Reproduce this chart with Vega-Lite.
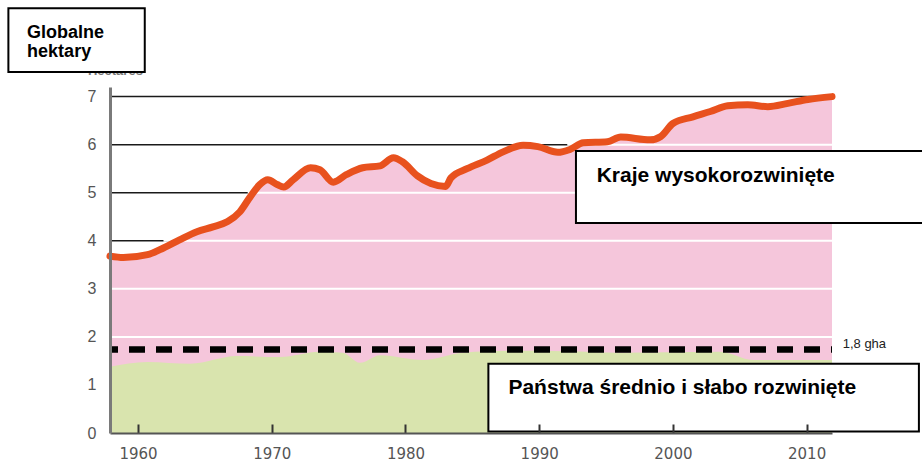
{
  "$schema": "https://vega.github.io/schema/vega-lite/v6.json",
  "width": 722,
  "height": 346,
  "autosize": {"type": "none"},
  "padding": {"left": 110, "top": 87, "right": 90, "bottom": 30},
  "background": "white",
  "config": {"view": {"stroke": null}},
  "datasets": {
    "high": [
      {"year": 1957.9, "v": 3.68}, {"year": 1958.9, "v": 3.65}, {"year": 1960.7, "v": 3.71},
      {"year": 1961.9, "v": 3.85}, {"year": 1963.1, "v": 4.02}, {"year": 1964.4, "v": 4.19},
      {"year": 1965.6, "v": 4.29}, {"year": 1966.7, "v": 4.40}, {"year": 1967.6, "v": 4.60},
      {"year": 1968.4, "v": 4.92}, {"year": 1969.1, "v": 5.17}, {"year": 1969.7, "v": 5.27},
      {"year": 1970.4, "v": 5.17}, {"year": 1970.9, "v": 5.12}, {"year": 1971.6, "v": 5.27},
      {"year": 1972.9, "v": 5.52}, {"year": 1973.6, "v": 5.48}, {"year": 1974.6, "v": 5.22},
      {"year": 1975.6, "v": 5.38}, {"year": 1976.8, "v": 5.52}, {"year": 1978.1, "v": 5.56},
      {"year": 1979.1, "v": 5.73}, {"year": 1979.8, "v": 5.64}, {"year": 1980.9, "v": 5.35},
      {"year": 1981.9, "v": 5.19}, {"year": 1983.0, "v": 5.13}, {"year": 1983.4, "v": 5.31},
      {"year": 1984.6, "v": 5.50}, {"year": 1986.1, "v": 5.68}, {"year": 1987.3, "v": 5.85},
      {"year": 1988.8, "v": 5.99}, {"year": 1989.9, "v": 5.96}, {"year": 1991.4, "v": 5.84},
      {"year": 1992.3, "v": 5.90}, {"year": 1993.3, "v": 6.04}, {"year": 1995.1, "v": 6.06},
      {"year": 1996.1, "v": 6.16}, {"year": 1998.3, "v": 6.10}, {"year": 1999.1, "v": 6.17},
      {"year": 2000.0, "v": 6.44}, {"year": 2001.5, "v": 6.58}, {"year": 2002.8, "v": 6.69},
      {"year": 2004.1, "v": 6.81}, {"year": 2005.6, "v": 6.83}, {"year": 2007.1, "v": 6.79},
      {"year": 2008.6, "v": 6.86}, {"year": 2010.1, "v": 6.94}, {"year": 2011.9, "v": 7.0}
    ],
    "low": [
      {"year": 1957.9, "v": 1.38}, {"year": 1960.7, "v": 1.48}, {"year": 1963.9, "v": 1.44},
      {"year": 1967.4, "v": 1.60}, {"year": 1970.6, "v": 1.58}, {"year": 1973.6, "v": 1.69},
      {"year": 1975.3, "v": 1.67}, {"year": 1976.6, "v": 1.46}, {"year": 1978.1, "v": 1.62},
      {"year": 1981.3, "v": 1.52}, {"year": 1984.3, "v": 1.67}, {"year": 1988.0, "v": 1.71},
      {"year": 1992.0, "v": 1.70}, {"year": 1996.0, "v": 1.67}, {"year": 2003.5, "v": 1.69},
      {"year": 2006.0, "v": 1.52}, {"year": 2011.9, "v": 1.52}
    ],
    "grid": [
      {"v": 2, "ws": 1957.9}, {"v": 3, "ws": 1957.9}, {"v": 4, "ws": 1961.9},
      {"v": 5, "ws": 1968.2}, {"v": 6, "ws": 1992.1}, {"v": 7, "ws": 2011.9}
    ],
    "threshold": [{"v": 1.74, "label": "1,8 gha", "year": 2012.7, "lv": 1.86}],
    "boxes": [
      {"name": "unit", "x1": 1950.3, "x2": 1960.5, "y1": 7.51, "y2": 8.84},
      {"name": "high", "x1": 1992.75, "x2": 2019.0, "y1": 4.37, "y2": 5.87},
      {"name": "low", "x1": 1986.2, "x2": 2018.4, "y1": 0.03, "y2": 1.44}
    ],
    "boxlabels": [
      {"text": "Globalne", "year": 1951.7, "v": 8.22, "size": "s"},
      {"text": "hektary", "year": 1951.7, "v": 7.83, "size": "s"},
      {"text": "Kraje wysokorozwinięte", "year": 1994.3, "v": 5.22, "size": "l"},
      {"text": "Państwa średnio i słabo rozwinięte", "year": 1987.7, "v": 0.81, "size": "l"}
    ],
    "hidden": [{"text": "Hectares", "year": 1956.25, "v": 7.45}]
  },
  "layer": [
    {
      "data": {"name": "grid"},
      "mark": {"type": "rule", "color": "#1a1a1a", "strokeWidth": 1.5},
      "encoding": {
        "y": {
          "field": "v", "type": "quantitative",
          "scale": {"domain": [0, 7.2], "nice": false, "zero": false},
          "axis": {
            "values": [0, 1, 2, 3, 4, 5, 6, 7], "grid": false, "ticks": false,
            "domainColor": "#7a7a7a", "domainWidth": 3,
            "labelFont": "Liberation Sans", "labelFontSize": 16, "labelColor": "#555555",
            "labelPadding": 14, "title": null, "zindex": 1
          }
        }
      }
    },
    {
      "data": {"name": "high"},
      "mark": {"type": "area", "color": "#f5c6db", "interpolate": "monotone"},
      "encoding": {
        "x": {
          "field": "year", "type": "quantitative",
          "scale": {"domain": [1957.9, 2011.9], "nice": false, "zero": false},
          "axis": {
            "values": [1960, 1970, 1980, 1990, 2000, 2010], "format": "d", "grid": false,
            "tickSize": -9, "tickWidth": 2, "tickColor": "#333333",
            "domainColor": "#555555", "domainWidth": 2,
            "labelFont": "DejaVu Sans", "labelFontSize": 15, "labelColor": "#555555",
            "labelPadding": 22, "labelFlush": false, "title": null, "zindex": 1
          }
        },
        "y": {"field": "v", "type": "quantitative"}
      }
    },
    {
      "data": {"name": "grid"},
      "mark": {"type": "rule", "color": "white", "strokeWidth": 2},
      "encoding": {
        "x": {"field": "ws", "type": "quantitative"},
        "x2": {"datum": 2011.9},
        "y": {"field": "v", "type": "quantitative"}
      }
    },
    {
      "data": {"name": "low"},
      "mark": {"type": "area", "color": "#d9e4ae", "interpolate": "monotone"},
      "encoding": {
        "x": {"field": "year", "type": "quantitative"},
        "y": {"field": "v", "type": "quantitative"}
      }
    },
    {
      "data": {"name": "threshold"},
      "mark": {"type": "rule", "color": "black", "strokeWidth": 6.5, "strokeDash": [16, 11], "strokeDashOffset": 15},
      "encoding": {"y": {"field": "v", "type": "quantitative"}}
    },
    {
      "data": {"name": "threshold"},
      "mark": {"type": "text", "align": "left", "baseline": "middle", "font": "Liberation Sans", "fontSize": 13, "color": "#222222"},
      "encoding": {
        "x": {"field": "year", "type": "quantitative"},
        "y": {"field": "lv", "type": "quantitative"},
        "text": {"field": "label"}
      }
    },
    {
      "data": {"name": "high"},
      "mark": {"type": "line", "color": "#e8511e", "strokeWidth": 7, "interpolate": "monotone", "strokeCap": "round"},
      "encoding": {
        "x": {"field": "year", "type": "quantitative"},
        "y": {"field": "v", "type": "quantitative"}
      }
    },
    {
      "data": {"name": "hidden"},
      "mark": {"type": "text", "align": "left", "baseline": "alphabetic", "font": "Liberation Sans", "fontSize": 13, "fontWeight": "bold", "color": "#777777"},
      "encoding": {
        "x": {"field": "year", "type": "quantitative"},
        "y": {"field": "v", "type": "quantitative"},
        "text": {"field": "text"}
      }
    },
    {
      "data": {"name": "boxes"},
      "mark": {"type": "rect", "fill": "white", "stroke": "black", "strokeWidth": 2},
      "encoding": {
        "x": {"field": "x1", "type": "quantitative"},
        "x2": {"field": "x2"},
        "y": {"field": "y1", "type": "quantitative"},
        "y2": {"field": "y2"}
      }
    },
    {
      "data": {"name": "boxlabels"},
      "mark": {"type": "text", "align": "left", "baseline": "alphabetic", "font": "Liberation Sans", "fontWeight": "bold", "color": "black"},
      "encoding": {
        "x": {"field": "year", "type": "quantitative"},
        "y": {"field": "v", "type": "quantitative"},
        "text": {"field": "text"},
        "size": {"field": "size", "type": "nominal", "scale": {"domain": ["s", "l"], "range": [18, 21]}, "legend": null}
      }
    }
  ]
}
